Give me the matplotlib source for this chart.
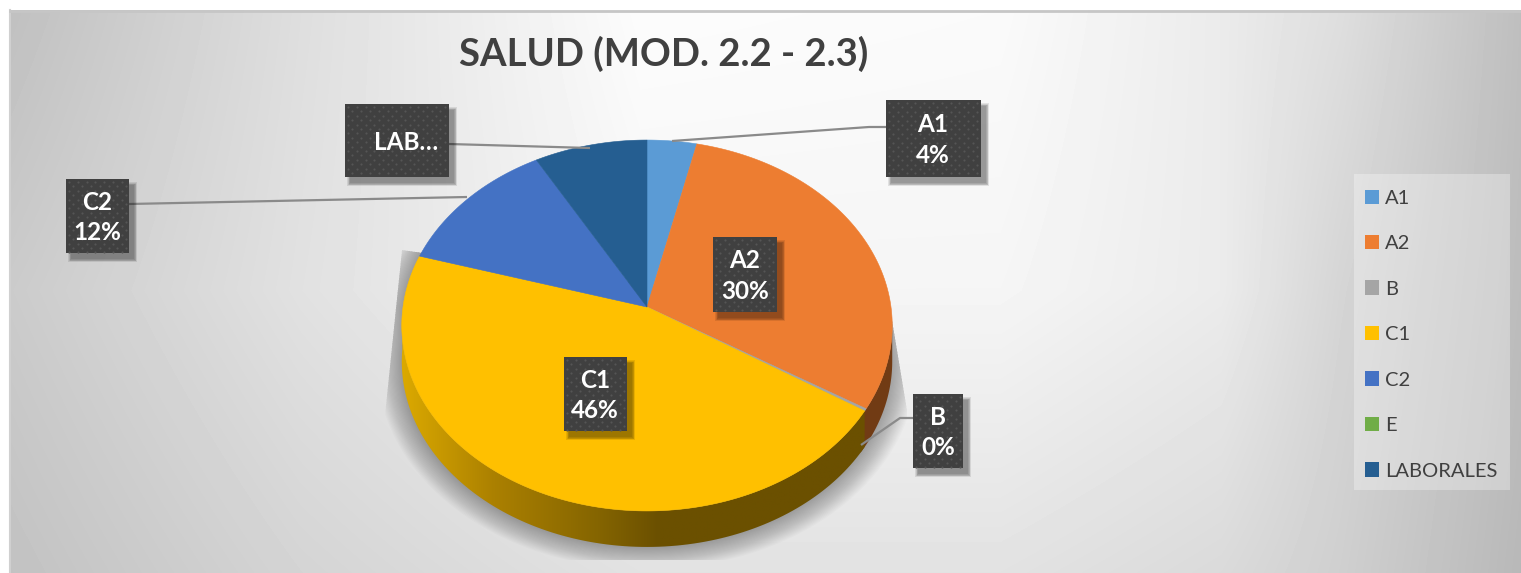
import numpy as np
import matplotlib
matplotlib.use("Agg")
import matplotlib.pyplot as plt
from matplotlib.patches import Patch, Polygon, Rectangle
from matplotlib.colors import LinearSegmentedColormap

plt.rcParams["font.family"] = ["Lato", "DejaVu Sans"]

# ---------- data ----------
names = ["A1", "A2", "B", "C1", "C2", "E", "LABORALES"]
shares = [3.6, 30.2, 0.2, 45.6, 12.2, 0.0, 8.2]
colors = ["#5b9bd5", "#ed7d31", "#a5a5a5", "#ffc000", "#4472c4", "#70ad47", "#255e91"]
chart_title = "SALUD (MOD. 2.2 - 2.3)"

# ---------- layout (pixels) ----------
W, H = 1521, 573
CX, CY = 647, 307
RX = 244
TILT = 0.0997
DEPTH = 36
GREY_TEXT = "#404040"

fig = plt.figure(figsize=(W / 100, H / 100), dpi=100)
ax = fig.add_axes([0, 0, 1, 1])
ax.set_xlim(0, W)
ax.set_ylim(H, 0)
ax.axis("off")


def project(angle_deg):
    # angle is clockwise from 12 o'clock, flat circle -> tilted perspective ellipse
    t = np.radians(angle_deg)
    x, y = np.sin(t), np.cos(t)
    k = 1 + TILT * y
    return CX + RX * x / k, (CY - 153 * y) / k


# ---------- background ----------
grad_x = [10, 300, 640, 1000, 1221, 1340, 1521]
grad_top = [192, 222, 252, 250, 235, 222, 190]
grad_mid = [203, 225, 245, 245, 235, 213, 188]
grad_low = [194, 212, 226, 226, 218, 207, 184]
xs = np.arange(10, W)
ys = np.arange(10, H)
rows = np.array([np.interp(xs, grad_x, g) for g in (grad_top, grad_mid, grad_low)])
bg = np.array([np.interp(ys, [10, 290, 573], rows[:, j]) for j in range(len(xs))]).T
ax.imshow(bg, cmap="gray", vmin=0, vmax=255, extent=(10, W, H, 10), aspect="auto", zorder=0,
          interpolation="bilinear")
ax.plot([10, 10], [10, H], color="#d0d0d0", lw=1.5, zorder=1)
ax.plot([10, W], [11, 11], color="#c6c6c6", lw=2, zorder=1)
ax.set_xlim(0, W)
ax.set_ylim(H, 0)

# ---------- pie shadow ----------
shadow_clip = Polygon([(402, 250), (385, 415), (385, 560), (907, 560), (907, 410), (892, 320)],
                      transform=ax.transData)
ang = np.linspace(0, 360, 361)
ox, oy = project(ang)
oy = np.where(oy > CY, oy + DEPTH, oy)
for grow in np.linspace(1.10, 1.0, 22):
    sh = ax.fill(CX + (ox - CX) * grow, 325 + (oy - 325) * grow, color="black", alpha=0.017, lw=0, zorder=2)[0]
    sh.set_clip_path(shadow_clip)

# ---------- pie side ----------
edges = np.cumsum([0] + shares) * 3.6
side_cmap = LinearSegmentedColormap.from_list(
    "side", [(0, "#dcaa00"), (0.2, "#ab8000"), (0.42, "#856500"), (0.55, "#6b5000"), (1, "#6b5000")])


def side_polygon(a0, a1):
    a = np.linspace(a0, a1, 120)
    px, py = project(a)
    return np.column_stack([np.r_[px, px[::-1]], np.r_[py, py[::-1] + DEPTH]])


orange_side = Polygon(side_polygon(96, edges[3] + 2), fc="#713b14", ec="none", zorder=3)
ax.add_patch(orange_side)
yellow_side = Polygon(side_polygon(edges[3], 268), fc="none", ec="none", zorder=3)
ax.add_patch(yellow_side)
grad = ax.imshow(np.linspace(0, 1, 256)[None, :], cmap=side_cmap, extent=(400, 870, 560, 300),
                 aspect="auto", zorder=3.1)
grad.set_clip_path(yellow_side)
ax.set_xlim(0, W)
ax.set_ylim(H, 0)

# ---------- pie top ----------
for i, c in enumerate(colors):
    if shares[i] <= 0:
        continue
    a = np.linspace(edges[i], edges[i + 1], 200)
    px, py = project(a)
    ax.fill(np.r_[CX, px], np.r_[CY, py], color=c, lw=0.4, zorder=4)

# ---------- leader lines ----------
leader_x = [[886, 869, 672], [449, 590], [129, 467], [913, 900, 861]]
leader_y = [[127, 127, 141], [144, 148], [204, 197], [418, 418, 445]]
for lx, ly in zip(leader_x, leader_y):
    ax.plot(lx, ly, color="#8a8a8a", lw=1.6, zorder=5, solid_capstyle="butt")

# ---------- data labels ----------
box_x = [886, 713, 913, 564, 66, 345]
box_y = [100, 237, 394, 357, 179, 104]
box_w = [95, 64, 50, 63, 63, 104]
box_h = [77, 75, 74, 74, 74, 73]
box_text = ["A1\n4%", "A2\n30%", "B\n0%", "C1\n46%", "C2\n12%", "LAB…"]
text_x = [933, 745, 938, 595, 97, 406]

for bx, by, bw, bh, txt, tx in zip(box_x, box_y, box_w, box_h, box_text, text_x):
    for g in np.linspace(3, 0, 5):
        ax.add_patch(Rectangle((bx + 5 - g, by + 6 - g), bw + 2 * g, bh + 2 * g, fc="black", ec="none",
                               alpha=0.09, zorder=6))
    ax.add_patch(Rectangle((bx, by), bw, bh, fc="#404040", ec="none", zorder=7))
    dots_x, dots_y = [], []
    for row, dy in enumerate(np.arange(by + 3, by + bh, 4.4)):
        start = bx + 3 + (row % 2) * 4.4
        for dx in np.arange(start, bx + bw, 8.8):
            dots_x.append(dx)
            dots_y.append(dy)
    ax.scatter(dots_x, dots_y, s=2.5, color="#555555", lw=0, zorder=8)
    ax.text(tx, by + bh / 2 + 1.5, txt, color="white", fontsize=17.5, fontweight="bold", ha="center", va="center",
            linespacing=1.42, zorder=9)

# ---------- title ----------
ax.text(664, 54, chart_title, color=GREY_TEXT, fontsize=27.5, fontweight="bold", ha="center", va="center", zorder=9)

# ---------- legend ----------
ax.add_patch(Rectangle((1354, 174), 156, 316, fc="white", ec="none", alpha=0.3, zorder=8))
handles = [Patch(facecolor=c, edgecolor="none", label=n) for n, c in zip(names, colors)]
leg = ax.legend(handles=handles, loc="upper left", bbox_to_anchor=(1350.5, 175), bbox_transform=ax.transData,
                borderaxespad=0, fontsize=14.5, frameon=False, labelcolor="#404040", labelspacing=1.41,
                handlelength=0.7, handleheight=0.7, handletextpad=0.3, borderpad=0.72)
leg.set_zorder(9)

fig.savefig("out.png", dpi=100, facecolor="white")
